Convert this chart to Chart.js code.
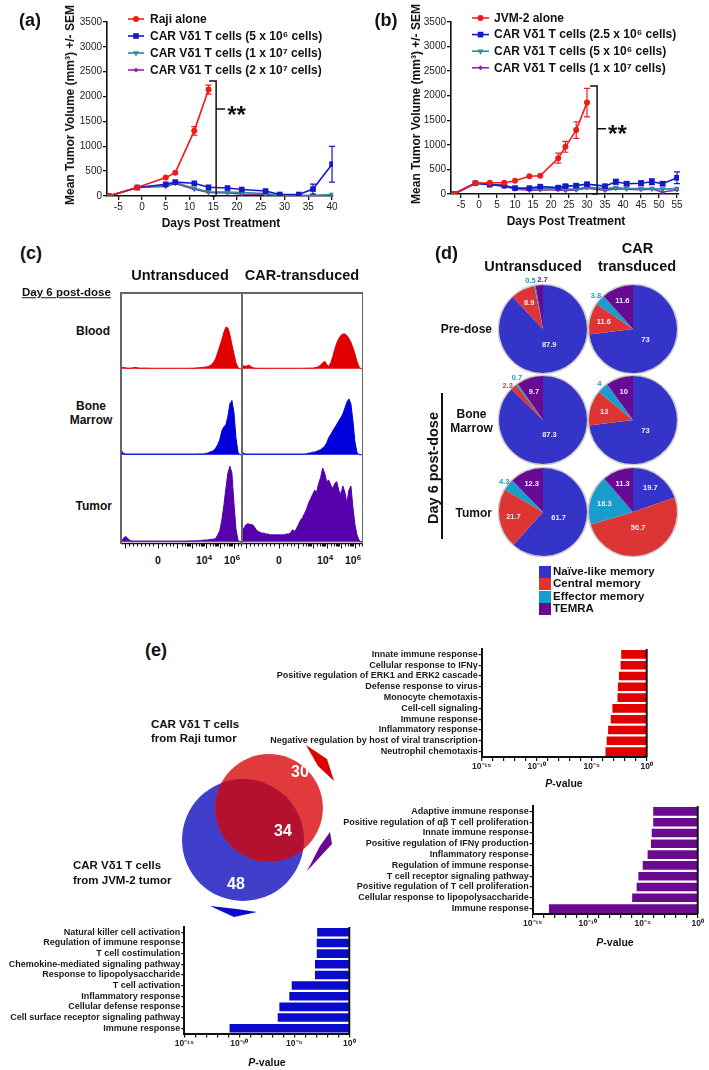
<!DOCTYPE html>
<html>
<head>
<meta charset="utf-8">
<title>CAR Vδ1 T cells</title>
<script src="https://cdn.jsdelivr.net/npm/chart.js@4.4.1/dist/chart.umd.min.js"></script>
<style>
  html, body { margin: 0; padding: 0; background: #fff; }
  body { position: relative; width: 709px; height: 1070px; overflow: hidden;
         font-family: "Liberation Sans", Arial, sans-serif; font-weight: bold; color: #111; }
  canvas { position: absolute; }
  .t { position: absolute; white-space: nowrap; line-height: 1; }
  .t sup { font-size: 75%; vertical-align: 0.45em; line-height: 0; }
  .blk { position: absolute; }
</style>
</head>
<body>
<script>
// ---- (a) Raji xenograft
const daysA = [-7, -1, 5, 7, 11, 14, 18, 21, 26, 29, 33, 36, 40];
const rajiAlone = [0, 170, 370, 470, 1310, 2140];
const rajiAloneSem = [0, 15, 25, 25, 85, 90];
const rajiCar5e6 = [0, 170, 235, 280, 255, 175, 160, 130, 100, 30, 30, 140, 640];
const rajiCar5e6Sem = [0, 10, 20, 20, 20, 15, 15, 15, 15, 10, 10, 100, 360];
const rajiCar1e7 = [0, 170, 210, 270, 155, 85, 80, 70, 50, 10, 10, 10, 30];
const rajiCar2e7 = [0, 170, 190, 250, 135, 70, 60, 40, 30, 10, 10, 10, 20];
const dayTicksA = [-5, 0, 5, 10, 15, 20, 25, 30, 35, 40];

// ---- (b) JVM-2 xenograft
const daysB = [-7, -1, 3, 7, 10, 14, 17, 22, 24, 27, 30, 35, 38, 41, 45, 48, 51, 55];
const jvmAlone = [0, 220, 230, 230, 270, 360, 370, 730, 960, 1300, 1860];
const jvmAloneSem = [0, 15, 15, 15, 15, 20, 20, 100, 110, 170, 290];
const jvmCar25e6 = [0, 220, 190, 170, 120, 120, 150, 130, 160, 170, 200, 160, 250, 210, 220, 250, 210, 330];
const jvmCar25e6Sem = [0, 15, 15, 15, 15, 15, 20, 20, 30, 30, 30, 20, 50, 40, 50, 60, 40, 120];
const jvmCar5e6 = [0, 220, 200, 170, 110, 100, 110, 110, 100, 100, 140, 110, 130, 110, 110, 110, 100, 110];
const jvmCar1e7 = [0, 220, 190, 160, 100, 70, 80, 80, 70, 80, 120, 70, 110, 100, 90, 100, 40, 80];
const dayTicksB = [-5, 0, 5, 10, 15, 20, 25, 30, 35, 40, 45, 50, 55];
const volumeTicks = [0, 500, 1000, 1500, 2000, 2500, 3000, 3500];

// ---- (c) flow histograms (channel vs. normalised count)
const flowChannels = [0, 2, 4, 6, 8, 10, 12, 14, 16, 18, 20, 22, 24, 26, 28, 30, 32, 34, 36, 38,
  40, 42, 44, 46, 48, 50, 52, 54, 56, 58, 60, 62, 64, 66, 68, 70, 72, 74, 76, 78,
  80, 82, 84, 86, 88, 90, 92, 94, 96, 98, 100, 102, 104, 106, 108, 110, 112, 114, 116, 118, 120];
const bloodUntrans = [2, 2, 1.5, 1, 1, 1, 1.5, 2, 1.5, 1, 1, 1, 1, 1, 0.8, 0.8, 0.8, 0.8, 0.8, 0.8,
  0.8, 0.8, 0.8, 0.8, 0.8, 0.8, 0.8, 0.8, 0.8, 0.8, 0.8, 0.8, 0.8, 0.8, 0.8, 1, 1, 1, 1.5, 1.5,
  2, 2, 2.5, 3, 4, 6, 9, 14, 22, 30, 38, 48, 55, 54, 45, 32, 20, 8, 2, 0, 0];
const bloodCar = [3, 4, 3, 5, 4, 2, 1, 1, 0.8, 0.8, 0.8, 0.8, 0.8, 0.8, 0.8, 0.8, 0.8, 0.8, 0.8, 0.8,
  0.8, 0.8, 0.8, 0.8, 0.8, 0.8, 0.8, 0.8, 0.8, 0.8, 0.8, 0.8, 1, 1, 1, 1, 1.5, 2, 3, 5,
  8, 10, 6, 3, 8, 16, 26, 34, 40, 44, 46, 46, 44, 40, 35, 28, 20, 10, 3, 0, 0];
const marrowUntrans = [6, 2, 0.8, 0.8, 0.8, 0.8, 0.8, 0.8, 0.8, 0.8, 0.8, 0.8, 0.8, 0.8, 0.8, 0.8, 0.8, 0.8, 0.8, 0.8,
  0.8, 0.8, 0.8, 0.8, 0.8, 0.8, 0.8, 0.8, 0.8, 0.8, 0.8, 0.8, 0.8, 0.8, 0.8, 0.8, 0.8, 0.8, 1, 1,
  1, 1, 1.5, 2, 3, 4, 5, 8, 12, 18, 28, 33, 35, 45, 60, 64, 50, 20, 3, 0, 0];
const marrowCar = [4, 1, 0.8, 0.8, 0.8, 0.8, 0.8, 0.8, 0.8, 0.8, 0.8, 0.8, 0.8, 0.8, 0.8, 0.8, 0.8, 0.8, 0.8, 0.8,
  0.8, 0.8, 0.8, 0.8, 0.8, 0.8, 0.8, 0.8, 0.8, 0.8, 0.8, 1, 1, 2, 2, 3, 3, 4, 5, 6,
  8, 10, 14, 20, 24, 28, 32, 36, 40, 44, 48, 55, 62, 66, 60, 40, 15, 3, 0, 0, 0];
const tumorUntrans = [1, 3, 6, 5, 2, 1, 0.8, 0.8, 0.8, 0.8, 0.8, 0.8, 0.8, 0.8, 0.8, 0.8, 0.8, 0.8, 0.8, 0.8,
  0.8, 0.8, 0.8, 0.8, 0.8, 0.8, 0.8, 0.8, 0.8, 0.8, 0.8, 0.8, 0.8, 0.8, 1, 1, 1, 1, 1, 1.5,
  1.5, 2, 2, 2, 2.5, 3, 3, 4, 8, 13, 25, 42, 62, 80, 88, 80, 45, 15, 2, 0, 0];
const tumorCar = [12, 16, 20, 21, 20, 20, 18, 14, 12, 11, 10, 10, 9, 9, 8, 8, 8, 8, 8, 8,
  8, 8, 9, 9, 10, 14, 12, 15, 20, 25, 28, 33, 38, 45, 50, 55, 60, 58, 68, 75,
  86, 80, 70, 72, 66, 62, 68, 70, 60, 55, 65, 58, 45, 60, 65, 40, 20, 8, 2, 0, 0];
const flowMajorTicks = [4, 37, 56, 70, 84, 98, 112];
const flowMinorTicks = [8, 12, 16, 20, 24, 28, 32, 41, 45, 49, 52, 60, 63, 65, 66.5, 67.5, 68.5,
  74, 77, 79, 80.5, 81.5, 82.5, 88, 91, 93, 94.5, 95.5, 96.5, 102, 105, 107, 108.5, 109.5, 110.5, 116, 119];

// ---- (d) memory subsets (%)
const memoryLabels = ['Naïve-like memory', 'Central memory', 'Effector memory', 'TEMRA'];
const memoryColors = ['#3434c8', '#dd3434', '#1a9ccc', '#680a94'];
const preUntrans = [87.9, 8.9, 0.5, 2.7];
const preCar = [73, 11.6, 3.8, 11.6];
const marrowUntransPie = [87.3, 2.3, 0.7, 9.7];
const marrowCarPie = [73, 13, 4, 10];
const tumorUntransPie = [61.7, 21.7, 4.3, 12.3];
const tumorCarPie = [19.7, 50.7, 18.3, 11.3];

// ---- (e) GO terms
const vennCounts = [30, 34, 48]; // Raji only, shared, JVM-2 only
const rajiTerms = ['Innate immune response', 'Cellular response to IFNγ', 'Positive regulation of ERK1 and ERK2 cascade',
  'Defense response to virus', 'Monocyte chemotaxis', 'Cell-cell signaling', 'Immune response',
  'Inflammatory response', 'Negative regulation by host of viral transcription', 'Neutrophil chemotaxis'];
const rajiP = [4.8e-3, 4.2e-3, 3e-3, 2.4e-3, 2.2e-3, 7.6e-4, 5.4e-4, 3.1e-4, 2.3e-4, 1.8e-4];
const sharedTerms = ['Adaptive immune response', 'Positive regulation of αβ T cell proliferation', 'Innate immune response',
  'Positive regulation of IFNγ production', 'Inflammatory response', 'Regulation of immune response',
  'T cell receptor signaling pathway', 'Positive regulation of T cell proliferation',
  'Cellular response to lipopolysaccharide', 'Immune response'];
const sharedP = [9e-5, 9e-5, 6.6e-5, 5.6e-5, 2.8e-5, 1e-5, 4e-6, 2.8e-6, 1.1e-6, 3e-14];
const jvmTerms = ['Natural killer cell activation', 'Regulation of immune response', 'T cell costimulation',
  'Chemokine-mediated signaling pathway', 'Response to lipopolysaccharide', 'T cell activation',
  'Inflammatory response', 'Cellular defense response', 'Cell surface receptor signaling pathway', 'Immune response'];
const jvmP = [1.2e-3, 1.1e-3, 1.1e-3, 7.6e-4, 7.6e-4, 5.8e-6, 3.5e-6, 4.4e-7, 3.1e-7, 1.3e-11];
const pValueTicks = [1e-15, 1e-14, 1e-13, 1e-12, 1e-11, 1e-10, 1e-9, 1e-8, 1e-7, 1e-6, 1e-5, 1e-4, 1e-3, 1e-2, 1e-1, 1];

const FONT = '"Liberation Sans", Arial, sans-serif';
Chart.defaults.font.family = FONT;
Chart.defaults.color = '#1a1a1a';
Chart.defaults.animation = false;
Chart.defaults.responsive = false;
Chart.defaults.layout.autoPadding = false;
Chart.defaults.plugins.legend.display = false;
Chart.defaults.plugins.tooltip.enabled = false;

const SUP = { '-': '⁻', '0': '⁰', '1': '¹', '2': '²', '3': '³', '4': '⁴', '5': '⁵', '6': '⁶', '7': '⁷', '8': '⁸', '9': '⁹' };
const sup = s => String(s).split('').map(ch => SUP[ch]).join('');

function canvasAt(left, top, w, h) {
  const c = document.createElement('canvas');
  c.width = w; c.height = h;
  c.style.left = left + 'px'; c.style.top = top + 'px';
  c.style.width = w + 'px'; c.style.height = h + 'px';
  document.body.appendChild(c);
  return c;
}

function label(html, x, y, size, opts = {}) {
  const d = document.createElement('div');
  d.className = 't';
  d.innerHTML = html;
  d.style.left = x + 'px';
  d.style.top = y + 'px';
  d.style.fontSize = size + 'px';
  const tx = opts.align === 'left' ? '0' : opts.align === 'right' ? '-100%' : '-50%';
  d.style.transform = `translate(${tx}, -50%)` + (opts.rotate ? ` rotate(${opts.rotate}deg)` : '');
  if (opts.underline) d.style.textDecoration = 'underline';
  document.body.appendChild(d);
}

function block(x, y, w, h, color) {
  const d = document.createElement('div');
  d.className = 'blk';
  Object.assign(d.style, { left: x + 'px', top: y + 'px', width: w + 'px', height: h + 'px', background: color });
  document.body.appendChild(d);
}

function marker(ctx, style, x, y, r, rot) {
  if (Chart.helpers && Chart.helpers.drawPoint) {
    Chart.helpers.drawPoint(ctx, { pointStyle: style, radius: r, rotation: rot || 0, borderWidth: 0 }, x, y);
    return;
  }
  ctx.beginPath(); ctx.arc(x, y, r, 0, Math.PI * 2); ctx.fill();
}

// ---------- plugins
const semBars = {
  id: 'semBars',
  afterDatasetsDraw(chart) {
    const ctx = chart.ctx, ys = chart.scales.y;
    chart.data.datasets.forEach((ds, i) => {
      if (!ds.sem) return;
      const pts = chart.getDatasetMeta(i).data;
      ctx.save();
      ctx.strokeStyle = ds.borderColor; ctx.lineWidth = 1.2;
      ctx.beginPath();
      pts.forEach((pt, j) => {
        const e = ds.sem[j];
        if (!e || e < 30) return;
        const v = ds.data[j].y;
        const y1 = ys.getPixelForValue(v + e), y2 = ys.getPixelForValue(Math.max(0, v - e));
        ctx.moveTo(pt.x, y1); ctx.lineTo(pt.x, y2);
        ctx.moveTo(pt.x - 3, y1); ctx.lineTo(pt.x + 3, y1);
        ctx.moveTo(pt.x - 3, y2); ctx.lineTo(pt.x + 3, y2);
      });
      ctx.stroke();
      ctx.restore();
    });
  }
};

const seriesKey = {
  id: 'seriesKey',
  afterDraw(chart, args, o) {
    const ctx = chart.ctx;
    chart.data.datasets.forEach((ds, i) => {
      const y = o.y + i * o.dy;
      ctx.save();
      ctx.strokeStyle = ds.borderColor; ctx.fillStyle = ds.backgroundColor; ctx.lineWidth = 1.6;
      ctx.beginPath(); ctx.moveTo(o.x, y); ctx.lineTo(o.x + o.len, y); ctx.stroke();
      marker(ctx, ds.pointStyle, o.x + o.len / 2, y, ds.pointRadius, ds.pointRotation);
      ctx.fillStyle = '#111';
      ctx.font = 'bold 12px ' + FONT;
      ctx.textBaseline = 'middle';
      ctx.fillText(ds.label, o.textX, y + 0.5);
      ctx.restore();
    });
  }
};

const bracket = {
  id: 'bracket',
  afterDraw(chart, args, o) {
    if (!o || o.x == null) return;
    const { ctx, scales: { x, y } } = chart;
    const px = x.getPixelForValue(o.x);
    const yt = y.getPixelForValue(o.top), yb = y.getPixelForValue(o.bottom), ym = y.getPixelForValue(o.mid);
    ctx.save();
    ctx.strokeStyle = '#111'; ctx.lineWidth = 1.5;
    ctx.beginPath();
    ctx.moveTo(px - 7, yt); ctx.lineTo(px, yt); ctx.lineTo(px, yb); ctx.lineTo(px - 5, yb);
    ctx.moveTo(px, ym); ctx.lineTo(px + 9, ym);
    ctx.stroke();
    ctx.fillStyle = '#111';
    ctx.font = 'bold 24px ' + FONT;
    ctx.textBaseline = 'middle';
    ctx.fillText('**', px + 11, ym + 7);
    ctx.restore();
  }
};

const flowAxis = {
  id: 'flowAxis',
  afterDraw(chart) {
    const { ctx, chartArea: a, scales: { x } } = chart;
    const y0 = a.bottom + 0.5;
    ctx.save();
    ctx.strokeStyle = '#111'; ctx.lineWidth = 1.5;
    ctx.beginPath(); ctx.moveTo(a.left, y0); ctx.lineTo(a.right, y0); ctx.stroke();
    ctx.lineWidth = 1;
    ctx.beginPath();
    flowMajorTicks.forEach(v => { const p = Math.round(x.getPixelForValue(v)) + 0.5; ctx.moveTo(p, y0); ctx.lineTo(p, y0 + 5); });
    flowMinorTicks.forEach(v => { const p = Math.round(x.getPixelForValue(v)) + 0.5; ctx.moveTo(p, y0); ctx.lineTo(p, y0 + 3); });
    ctx.stroke();
    ctx.restore();
  }
};

const pieDecor = {
  id: 'pieDecor',
  afterDatasetsDraw(chart) {
    const ctx = chart.ctx;
    const arcs = chart.getDatasetMeta(0).data;
    const ds = chart.data.datasets[0];
    const R = arcs[0].outerRadius, cx = arcs[0].x, cy = arcs[0].y;
    ctx.save();
    ctx.strokeStyle = 'rgba(110,110,110,0.35)'; ctx.lineWidth = 1.5;
    ctx.beginPath(); ctx.arc(cx, cy, R + 0.6, 0, Math.PI * 2); ctx.stroke();
    const spots = arcs.map((a, i) => ({ mid: (a.startAngle + a.endAngle) / 2, v: ds.data[i], c: ds.backgroundColor[i] }));
    const gap = 12 / (R * 1.12);
    for (let i = 0; i < spots.length - 1; i++) {
      const a = spots[i], b = spots[i + 1];
      if (a.v < 5 && b.v < 5 && b.mid - a.mid < gap) {
        const m = (a.mid + b.mid) / 2; a.mid = m - gap / 2; b.mid = m + gap / 2;
      }
    }
    ctx.font = 'bold 7.5px ' + FONT; ctx.textAlign = 'center'; ctx.textBaseline = 'middle';
    spots.forEach(s => {
      const k = s.v >= 50 ? 0.38 : s.v >= 5 ? 0.68 : 1.12;
      ctx.fillStyle = s.v < 5 ? s.c : '#eeeefa';
      ctx.fillText(String(s.v), cx + Math.cos(s.mid) * R * k, cy + Math.sin(s.mid) * R * k);
    });
    ctx.restore();
  }
};

const pValueEdge = {
  id: 'pValueEdge',
  afterDraw(chart) {
    const { ctx, chartArea: a, scales: { x } } = chart;
    const px = x.getPixelForValue(1);
    ctx.save(); ctx.strokeStyle = '#111'; ctx.lineWidth = 2;
    ctx.beginPath(); ctx.moveTo(px, a.top); ctx.lineTo(px, a.bottom); ctx.stroke();
    ctx.restore();
  }
};

// Venn layout (centre positions only; circle areas follow set sizes)
const vennLayout = { raji: [119, 68], jvm: [93, 100], scale: 61 / Math.sqrt(82) };
const vennDecor = {
  id: 'vennDecor',
  afterDatasetsDraw(chart) {
    const ctx = chart.ctx;
    const red = chart.getDatasetMeta(0).data[0], blue = chart.getDatasetMeta(1).data[0];
    const rr = chart.data.datasets[0].pointRadius, br = chart.data.datasets[1].pointRadius;
    ctx.save();
    ctx.beginPath(); ctx.arc(blue.x, blue.y, br, 0, Math.PI * 2); ctx.clip();
    ctx.beginPath(); ctx.arc(red.x, red.y, rr, 0, Math.PI * 2);
    ctx.fillStyle = '#b3112f'; ctx.fill();
    ctx.restore();
    ctx.save();
    ctx.fillStyle = '#fff'; ctx.font = 'bold 16px ' + FONT; ctx.textAlign = 'center'; ctx.textBaseline = 'middle';
    ctx.fillText(String(vennCounts[0]), red.x + 31, red.y - 35);
    ctx.fillText(String(vennCounts[1]), red.x + 14, red.y + 24);
    ctx.fillText(String(vennCounts[2]), blue.x - 7, blue.y + 45);
    const wedge = (pts, col) => {
      ctx.beginPath(); ctx.moveTo(pts[0][0], pts[0][1]);
      pts.slice(1).forEach(p => ctx.lineTo(p[0], p[1]));
      ctx.closePath(); ctx.fillStyle = col; ctx.fill();
    };
    wedge([[156, 5], [177, 19], [184, 41], [168, 26]], '#dd0000');
    wedge([[180, 92], [182, 104], [157, 131], [170, 106]], '#6b0a8f');
    wedge([[60, 166], [87, 169], [107, 172], [84, 177]], '#0a0acc');
    ctx.restore();
  }
};

// ---------- (a), (b) growth curves
function growthChart(cfg) {
  const cv = canvasAt(cfg.left, 0, cfg.width, 235);
  const datasets = cfg.series.map(s => ({
    label: s.label,
    data: s.values.map((v, i) => ({ x: cfg.days[i], y: v })),
    sem: s.sem,
    borderColor: s.color, backgroundColor: s.color,
    borderWidth: 1.6, pointStyle: s.marker, pointRadius: s.size, pointRotation: s.rot || 0,
    pointBorderWidth: 0, tension: 0
  }));
  const tickFont = { size: 10, weight: 'normal' };
  const axisStyle = {
    grid: { drawOnChartArea: false, tickLength: 4, color: '#111', lineWidth: 1.3 },
    border: { color: '#111', width: 1.6 }
  };
  new Chart(cv, {
    type: 'line',
    data: { datasets },
    options: {
      layout: { padding: { top: 22, right: cfg.right, left: 0, bottom: 0 } },
      scales: {
        x: { type: 'linear', min: cfg.xmin, max: cfg.xmax, ...axisStyle,
             afterBuildTicks: s => { s.ticks = cfg.xticks.map(v => ({ value: v })); },
             ticks: { font: tickFont, color: '#222', padding: 1, maxRotation: 0, autoSkip: false, callback: v => String(v) },
             afterFit: s => { s.height = cfg.xh; } },
        y: { type: 'linear', min: 0, max: 3500, ...axisStyle,
             afterBuildTicks: s => { s.ticks = volumeTicks.map(v => ({ value: v })); },
             ticks: { font: tickFont, color: '#222', padding: 1, autoSkip: false, callback: v => String(v) },
             afterFit: s => { s.width = cfg.yw; } }
      },
      plugins: { seriesKey: cfg.key, bracket: cfg.bracket }
    },
    plugins: [semBars, seriesKey, bracket]
  });
}

const RED = '#f01c1c', BLUE = '#1818c8', TEAL = '#2a8c9c', PURPLE = '#8a2aae';
growthChart({
  left: 0, width: 354, right: 21, xmin: -7.37, xmax: 40.2, xh: 39, yw: 107,
  days: daysA, xticks: dayTicksA,
  key: { x: 128, len: 16, textX: 150, y: 19, dy: 17 },
  bracket: { x: 15.6, top: 2313, mid: 1750, bottom: 0 },
  series: [
    { label: 'Raji alone', values: rajiAlone, sem: rajiAloneSem, color: RED, marker: 'circle', size: 3 },
    { label: 'CAR Vδ1 T cells (5 x 10⁶ cells)', values: rajiCar5e6, sem: rajiCar5e6Sem, color: BLUE, marker: 'rect', size: 4 },
    { label: 'CAR Vδ1 T cells (1 x 10⁷ cells)', values: rajiCar1e7, color: TEAL, marker: 'triangle', size: 3.5, rot: 180 },
    { label: 'CAR Vδ1 T cells (2 x 10⁷ cells)', values: rajiCar2e7, color: PURPLE, marker: 'rectRot', size: 2.5 }
  ]
});
growthChart({
  left: 354, width: 355, right: 30, xmin: -7.78, xmax: 55.55, xh: 41, yw: 97,
  days: daysB, xticks: dayTicksB,
  key: { x: 118, len: 17, textX: 140, y: 18, dy: 16.6 },
  bracket: { x: 32.8, top: 2200, mid: 1326, bottom: 0 },
  series: [
    { label: 'JVM-2 alone', values: jvmAlone, sem: jvmAloneSem, color: RED, marker: 'circle', size: 3 },
    { label: 'CAR Vδ1 T cells (2.5 x 10⁶ cells)', values: jvmCar25e6, sem: jvmCar25e6Sem, color: BLUE, marker: 'rect', size: 4 },
    { label: 'CAR Vδ1 T cells (5 x 10⁶ cells)', values: jvmCar5e6, color: TEAL, marker: 'triangle', size: 3.5, rot: 180 },
    { label: 'CAR Vδ1 T cells (1 x 10⁷ cells)', values: jvmCar1e7, color: PURPLE, marker: 'rectRot', size: 2.5 }
  ]
});
label('(a)', 30, 20, 18);
label('(b)', 386, 20, 18);
label('Mean Tumor Volume (mm³) +/- SEM', 70, 105, 12, { rotate: -90 });
label('Mean Tumor Volume (mm³) +/- SEM', 416, 104, 12, { rotate: -90 });
label('Days Post Treatment', 221, 222.5, 12);
label('Days Post Treatment', 566, 221, 12);

// ---------- (c) flow histograms
function flowHist(left, top, h, counts, color, withAxis) {
  const cv = canvasAt(left, top, 121, h + (withAxis ? 8 : 0));
  new Chart(cv, {
    type: 'line',
    data: { datasets: [{ data: flowChannels.map((c, i) => ({ x: c, y: counts[i] })),
      borderColor: color, backgroundColor: color, borderWidth: 1, fill: 'origin', pointRadius: 0, tension: 0 }] },
    options: {
      layout: { padding: { left: 0, right: 0, top: 0, bottom: withAxis ? 8 : 0 } },
      scales: { x: { type: 'linear', display: false, min: 0, max: 120 }, y: { display: false, min: -1.5, max: 100 } }
    },
    plugins: withAxis ? [flowAxis] : []
  });
}
flowHist(121, 293, 77, bloodUntrans, '#e00000', false);
flowHist(242, 293, 77, bloodCar, '#e00000', false);
flowHist(121, 370, 86, marrowUntrans, '#0000dd', false);
flowHist(242, 370, 86, marrowCar, '#0000dd', false);
flowHist(121, 456, 87, tumorUntrans, '#5500aa', true);
flowHist(242, 456, 87, tumorCar, '#5500aa', true);
block(120, 292, 243, 1.5, '#666');
block(120, 292, 1.5, 252, '#666');
block(241, 292, 1.5, 252, '#666');
block(361.5, 292, 1.5, 252, '#666');
label('(c)', 31, 253, 18);
label('Untransduced', 180, 275, 14.5);
label('CAR-transduced', 302, 275, 14.5);
label('Day 6 post-dose', 22, 293, 11.5, { align: 'left', underline: true });
label('Blood', 110, 331, 12, { align: 'right' });
label('Bone', 91, 406, 12);
label('Marrow', 91, 420, 12);
label('Tumor', 112, 506, 12, { align: 'right' });
[[158, '0'], [204, '10<sup>4</sup>'], [232, '10<sup>6</sup>'], [279, '0'], [325, '10<sup>4</sup>'], [353, '10<sup>6</sup>']]
  .forEach(([x, s]) => label(s, x, 560, 10.5));

// ---------- (d) memory pies
function pieChart(cx, cy, vals) {
  const cv = canvasAt(cx - 62, cy - 62, 124, 124);
  new Chart(cv, {
    type: 'pie',
    data: { labels: memoryLabels, datasets: [{ data: vals, backgroundColor: memoryColors, borderWidth: 0 }] },
    options: { layout: { padding: 18 } },
    plugins: [pieDecor]
  });
}
pieChart(543, 329, preUntrans);
pieChart(633, 329, preCar);
pieChart(543, 420, marrowUntransPie);
pieChart(633, 420, marrowCarPie);
pieChart(543, 512, tumorUntransPie);
pieChart(633, 512, tumorCarPie);
label('(d)', 446.5, 253, 18);
label('Untransduced', 533, 266, 14.5);
label('CAR', 637.5, 248, 14.5);
label('transduced', 637, 266, 14.5);
label('Pre-dose', 492, 328.5, 12, { align: 'right' });
label('Bone', 471.5, 413.5, 12);
label('Marrow', 471.5, 427.5, 12);
label('Tumor', 492, 512.7, 12, { align: 'right' });
label('Day 6 post-dose', 432.5, 468, 14.5, { rotate: -90 });
block(441, 393, 2, 146, '#111');
memoryLabels.forEach((name, i) => {
  block(539, 566 + i * 12.4, 12, 12, memoryColors[i]);
  label(name, 553, 572 + i * 12.4, 11.5, { align: 'left' });
});

// ---------- (e) Venn + GO bars
(function venn() {
  const cv = canvasAt(150, 740, 210, 190);
  const rRaji = vennLayout.scale * Math.sqrt(vennCounts[0] + vennCounts[1]);
  const rJvm = vennLayout.scale * Math.sqrt(vennCounts[2] + vennCounts[1]);
  new Chart(cv, {
    type: 'scatter',
    data: { datasets: [
      { data: [{ x: vennLayout.raji[0], y: vennLayout.raji[1] }], pointRadius: rRaji, pointHoverRadius: rRaji,
        backgroundColor: '#e03a3c', pointBorderWidth: 0, clip: false },
      { data: [{ x: vennLayout.jvm[0], y: vennLayout.jvm[1] }], pointRadius: rJvm, pointHoverRadius: rJvm,
        backgroundColor: '#3f3fcc', pointBorderWidth: 0, clip: false }
    ] },
    options: {
      layout: { padding: 0 },
      scales: { x: { display: false, min: 0, max: 210 }, y: { display: false, min: 0, max: 190, reverse: true } }
    },
    plugins: [vennDecor]
  });
})();

function goBars(cfg) {
  const cv = canvasAt(cfg.left, cfg.top, cfg.w, cfg.h);
  new Chart(cv, {
    type: 'bar',
    data: { labels: cfg.terms, datasets: [{ data: cfg.p.map(p => [p, 1]), backgroundColor: cfg.color,
      barPercentage: 0.8, categoryPercentage: 1, borderWidth: 0 }] },
    options: {
      indexAxis: 'y',
      layout: { padding: { top: cfg.plotTop - cfg.top, right: cfg.left + cfg.w - cfg.axisRight, left: 0, bottom: 0 } },
      scales: {
        x: { type: 'logarithmic', min: 1e-15, max: 1,
             afterBuildTicks: s => { s.ticks = pValueTicks.map(v => ({ value: v })); },
             ticks: { autoSkip: false, maxRotation: 0, padding: 1, color: '#222', font: { size: 8.5, weight: 'bold' },
                      callback: v => { const k = Math.round(Math.log10(v)); return k % 5 === 0 ? '10' + sup(k) : ''; } },
             grid: { drawOnChartArea: false, tickLength: 4, color: '#111', lineWidth: 1.2 },
             border: { color: '#111', width: 2 },
             afterFit: s => { s.height = cfg.top + cfg.h - cfg.plotBottom; } },
        y: { ticks: { autoSkip: false, padding: 1, color: '#1a1a1a', font: { size: 9, weight: 'bold' } },
             grid: { drawOnChartArea: false, offset: false, tickLength: 3, color: '#111', lineWidth: 1.2 },
             border: { color: '#111', width: 2 },
             afterFit: s => { s.width = cfg.axisLeft - cfg.left; } }
      }
    },
    plugins: [pValueEdge]
  });
}
goBars({ left: 260, top: 640, w: 449, h: 160, axisLeft: 481.7, axisRight: 646.7, plotTop: 649, plotBottom: 757,
  terms: rajiTerms, p: rajiP, color: '#e00000' });
goBars({ left: 330, top: 796, w: 379, h: 150, axisLeft: 532.7, axisRight: 697.7, plotTop: 806, plotBottom: 914,
  terms: sharedTerms, p: sharedP, color: '#6b0a8f' });
goBars({ left: 0, top: 918, w: 360, h: 152, axisLeft: 184.3, axisRight: 349.3, plotTop: 927, plotBottom: 1033.5,
  terms: jvmTerms, p: jvmP, color: '#0a0acc' });

label('(e)', 156, 650, 18);
label('CAR Vδ1 T cells', 151, 725, 11.5, { align: 'left' });
label('from Raji tumor', 151, 738.5, 11.5, { align: 'left' });
label('CAR Vδ1 T cells', 73, 866, 11.5, { align: 'left' });
label('from JVM-2 tumor', 73, 881, 11.5, { align: 'left' });
label('<i>P</i>-value', 564, 783, 10.5);
label('<i>P</i>-value', 615, 942, 10.5);
label('<i>P</i>-value', 267, 1062, 10.5);
</script>
</body>
</html>
